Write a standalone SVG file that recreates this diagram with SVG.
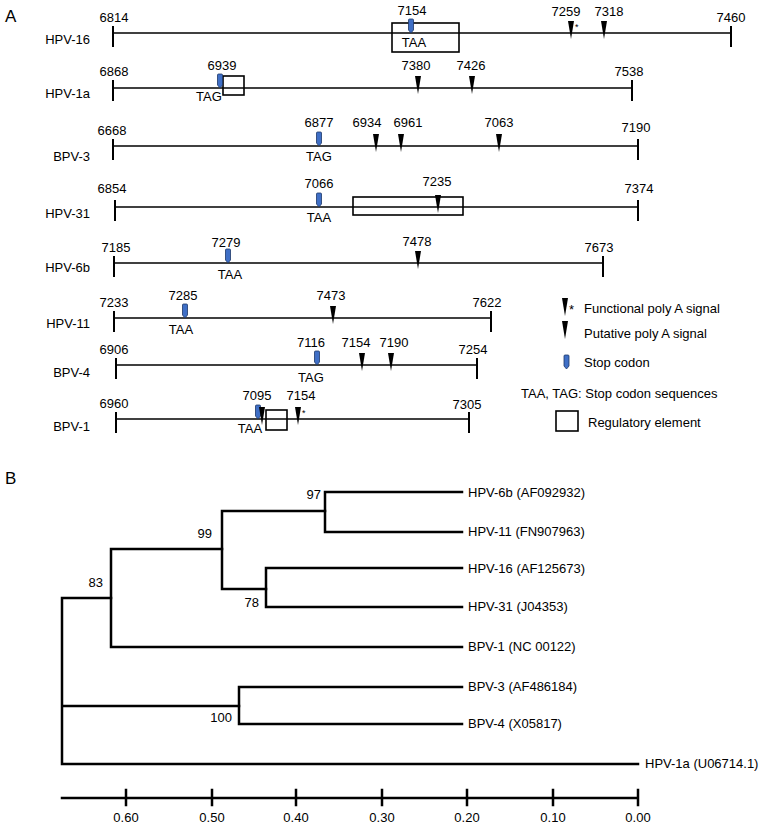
<svg xmlns="http://www.w3.org/2000/svg" xmlns:xlink="http://www.w3.org/1999/xlink" width="765" height="827" viewBox="0 0 765 827">
<style>
text{font-family:"Liberation Sans",Arial,sans-serif;font-size:13px;fill:#000}
.c{text-anchor:middle}
.r{text-anchor:end}
.pl{font-size:17px}
.ast{font-size:9px}
.gl{stroke:#000;stroke-width:1.5;fill:none}
.tk{stroke:#000;stroke-width:2;fill:none}
.bx{stroke:#000;stroke-width:1.6;fill:none}
.br{stroke:#000;stroke-width:2.5;fill:none;stroke-linecap:square}
</style>
<defs>
<path id="stop" d="M-2.5,-13 Q-2.5,-14 -1.5,-14 h3 Q2.5,-14 2.5,-13 v10 l-2.5,3 l-2.5,-3 z" fill="#3f6fc6" stroke="#1d3768" stroke-width="0.8"/>
<path id="tri" d="M-3,-12 L3,-12 L0,6 z" fill="#000"/>
</defs>
<rect width="765" height="827" fill="#fff"/>
<text class="pl" x="5" y="22">A</text>
<text class="pl" x="5" y="484">B</text>

<g id="row-hpv16">
<text class="r" x="90" y="44">HPV-16</text>
<line class="gl" x1="113" y1="33" x2="731" y2="33"/>
<line class="tk" x1="113" y1="26" x2="113" y2="47"/>
<line class="tk" x1="731" y1="26" x2="731" y2="47"/>
<rect class="bx" x="392" y="23" width="67" height="29"/>
<use xlink:href="#stop" x="411" y="33"/>
<use xlink:href="#tri" x="571" y="33"/>
<use xlink:href="#tri" x="604" y="33"/>
<text class="ast" x="575" y="30">*</text>
<text class="c" x="114" y="22">6814</text>
<text class="c" x="412" y="15">7154</text>
<text class="c" x="566" y="16">7259</text>
<text class="c" x="609" y="16">7318</text>
<text class="c" x="731" y="22">7460</text>
<text class="c" x="414" y="47">TAA</text>
</g>

<g id="row-hpv1a">
<text class="r" x="90" y="98">HPV-1a</text>
<line class="gl" x1="113" y1="88" x2="632" y2="88"/>
<line class="tk" x1="113" y1="80" x2="113" y2="101"/>
<line class="tk" x1="632" y1="80" x2="632" y2="101"/>
<rect class="bx" x="223" y="76" width="21" height="19"/>
<use xlink:href="#stop" x="220" y="88"/>
<use xlink:href="#tri" x="418" y="88"/>
<use xlink:href="#tri" x="472" y="88"/>
<text class="c" x="114" y="76">6868</text>
<text class="c" x="222" y="70">6939</text>
<text class="c" x="209" y="101">TAG</text>
<text class="c" x="416" y="70">7380</text>
<text class="c" x="471" y="70">7426</text>
<text class="c" x="629" y="76">7538</text>
</g>

<g id="row-bpv3">
<text class="r" x="90" y="161">BPV-3</text>
<line class="gl" x1="113" y1="146" x2="638" y2="146"/>
<line class="tk" x1="113" y1="139" x2="113" y2="160"/>
<line class="tk" x1="638" y1="139" x2="638" y2="160"/>
<use xlink:href="#stop" x="319" y="146"/>
<use xlink:href="#tri" x="376" y="146"/>
<use xlink:href="#tri" x="401" y="146"/>
<use xlink:href="#tri" x="499" y="146"/>
<text class="c" x="112" y="135">6668</text>
<text class="c" x="319" y="127">6877</text>
<text class="c" x="319" y="161">TAG</text>
<text class="c" x="367" y="127">6934</text>
<text class="c" x="408" y="127">6961</text>
<text class="c" x="499" y="127">7063</text>
<text class="c" x="636" y="132">7190</text>
</g>

<g id="row-hpv31">
<text class="r" x="90" y="218">HPV-31</text>
<line class="gl" x1="115" y1="207" x2="638" y2="207"/>
<line class="tk" x1="115" y1="200" x2="115" y2="221"/>
<line class="tk" x1="638" y1="200" x2="638" y2="221"/>
<rect class="bx" x="353" y="197" width="110" height="18"/>
<use xlink:href="#stop" x="319" y="207"/>
<use xlink:href="#tri" x="438" y="207"/>
<text class="c" x="112" y="193">6854</text>
<text class="c" x="319" y="188">7066</text>
<text class="c" x="319" y="222">TAA</text>
<text class="c" x="437" y="186">7235</text>
<text class="c" x="639" y="193">7374</text>
</g>

<g id="row-hpv6b">
<text class="r" x="90" y="272">HPV-6b</text>
<line class="gl" x1="114" y1="263" x2="603" y2="263"/>
<line class="tk" x1="114" y1="256" x2="114" y2="277"/>
<line class="tk" x1="603" y1="256" x2="603" y2="277"/>
<use xlink:href="#stop" x="228" y="263"/>
<use xlink:href="#tri" x="418" y="263"/>
<text class="c" x="116" y="252">7185</text>
<text class="c" x="226" y="247">7279</text>
<text class="c" x="230" y="279">TAA</text>
<text class="c" x="417" y="246">7478</text>
<text class="c" x="599" y="252">7673</text>
</g>

<g id="row-hpv11">
<text class="r" x="90" y="328">HPV-11</text>
<line class="gl" x1="114" y1="318" x2="491" y2="318"/>
<line class="tk" x1="114" y1="311" x2="114" y2="332"/>
<line class="tk" x1="491" y1="311" x2="491" y2="332"/>
<use xlink:href="#stop" x="185" y="318"/>
<use xlink:href="#tri" x="333" y="318"/>
<text class="c" x="114" y="307">7233</text>
<text class="c" x="183" y="300">7285</text>
<text class="c" x="181" y="334">TAA</text>
<text class="c" x="331" y="300">7473</text>
<text class="c" x="487" y="307">7622</text>
</g>

<g id="row-bpv4">
<text class="r" x="90" y="377">BPV-4</text>
<line class="gl" x1="116" y1="365" x2="477" y2="365"/>
<line class="tk" x1="116" y1="358" x2="116" y2="379"/>
<line class="tk" x1="477" y1="358" x2="477" y2="379"/>
<use xlink:href="#stop" x="317" y="365"/>
<use xlink:href="#tri" x="362" y="365"/>
<use xlink:href="#tri" x="391" y="365"/>
<text class="c" x="114" y="354">6906</text>
<text class="c" x="311" y="347">7116</text>
<text class="c" x="311" y="382">TAG</text>
<text class="c" x="356" y="347">7154</text>
<text class="c" x="394" y="347">7190</text>
<text class="c" x="473" y="354">7254</text>
</g>

<g id="row-bpv1">
<text class="r" x="90" y="431">BPV-1</text>
<line class="gl" x1="116" y1="419" x2="469" y2="419"/>
<line class="tk" x1="116" y1="412" x2="116" y2="433"/>
<line class="tk" x1="469" y1="412" x2="469" y2="433"/>
<rect class="bx" x="266" y="410" width="21" height="20"/>
<use xlink:href="#stop" x="258" y="419"/>
<use xlink:href="#tri" x="262" y="419"/>
<use xlink:href="#tri" x="298" y="419"/>
<text class="ast" x="302" y="416">*</text>
<text class="c" x="114" y="408">6960</text>
<text class="c" x="257" y="400">7095</text>
<text class="c" x="301" y="400">7154</text>
<text class="c" x="250" y="433">TAA</text>
<text class="c" x="467" y="409">7305</text>
</g>

<g id="legend">
<use xlink:href="#tri" x="565" y="310"/>
<text x="569" y="314">*</text>
<text x="584" y="313">Functional poly A signal</text>
<use xlink:href="#tri" x="565" y="333"/>
<text x="584" y="338">Putative poly A signal</text>
<use xlink:href="#stop" x="566.5" y="369"/>
<text x="584" y="367">Stop codon</text>
<text x="521" y="398">TAA, TAG: Stop codon sequences</text>
<rect class="bx" x="556" y="411" width="22" height="20"/>
<text x="588" y="427">Regulatory element</text>
</g>

<g id="connectors">
<path class="br" d="M325,492 V532 M325,492 H462 M325,532 H462"/>
<path class="br" d="M222,511 V589 M222,511 H325 M222,589 H266"/>
<path class="br" d="M266,568 V607 M266,568 H462 M266,607 H462"/>
<path class="br" d="M111,549 V647 M111,549 H222 M111,647 H462"/>
<path class="br" d="M239,687 V724 M239,687 H462 M239,724 H462"/>
<path class="br" d="M62,598 V764 M62,598 H111 M62,706 H239 M62,764 H638"/>
</g>

<g id="support">
<text class="r" x="321" y="499">97</text>
<text class="r" x="212" y="538">99</text>
<text class="r" x="103" y="587">83</text>
<text class="r" x="259" y="607">78</text>
<text class="r" x="232" y="722">100</text>
</g>

<g id="leaf-hpv6b"><text x="468" y="497">HPV-6b (AF092932)</text></g>
<g id="leaf-hpv11"><text x="468" y="536">HPV-11 (FN907963)</text></g>
<g id="leaf-hpv16"><text x="468" y="573">HPV-16 (AF125673)</text></g>
<g id="leaf-hpv31"><text x="468" y="611">HPV-31 (J04353)</text></g>
<g id="leaf-bpv1"><text x="468" y="651">BPV-1 (NC 00122)</text></g>
<g id="leaf-bpv3"><text x="468" y="691">BPV-3 (AF486184)</text></g>
<g id="leaf-bpv4"><text x="468" y="728">BPV-4 (X05817)</text></g>
<g id="leaf-hpv1a"><text x="645" y="768">HPV-1a (U06714.1)</text></g>

<g id="axis">
<path class="br" d="M62,798 H638 M126,790 V805 M212,790 V805 M296,790 V805 M382,790 V805 M467,790 V805 M553,790 V805 M638,790 V805"/>
<text class="c" x="126" y="822">0.60</text>
<text class="c" x="212" y="822">0.50</text>
<text class="c" x="296" y="822">0.40</text>
<text class="c" x="382" y="822">0.30</text>
<text class="c" x="467" y="822">0.20</text>
<text class="c" x="553" y="822">0.10</text>
<text class="c" x="638" y="822">0.00</text>
</g>
</svg>
